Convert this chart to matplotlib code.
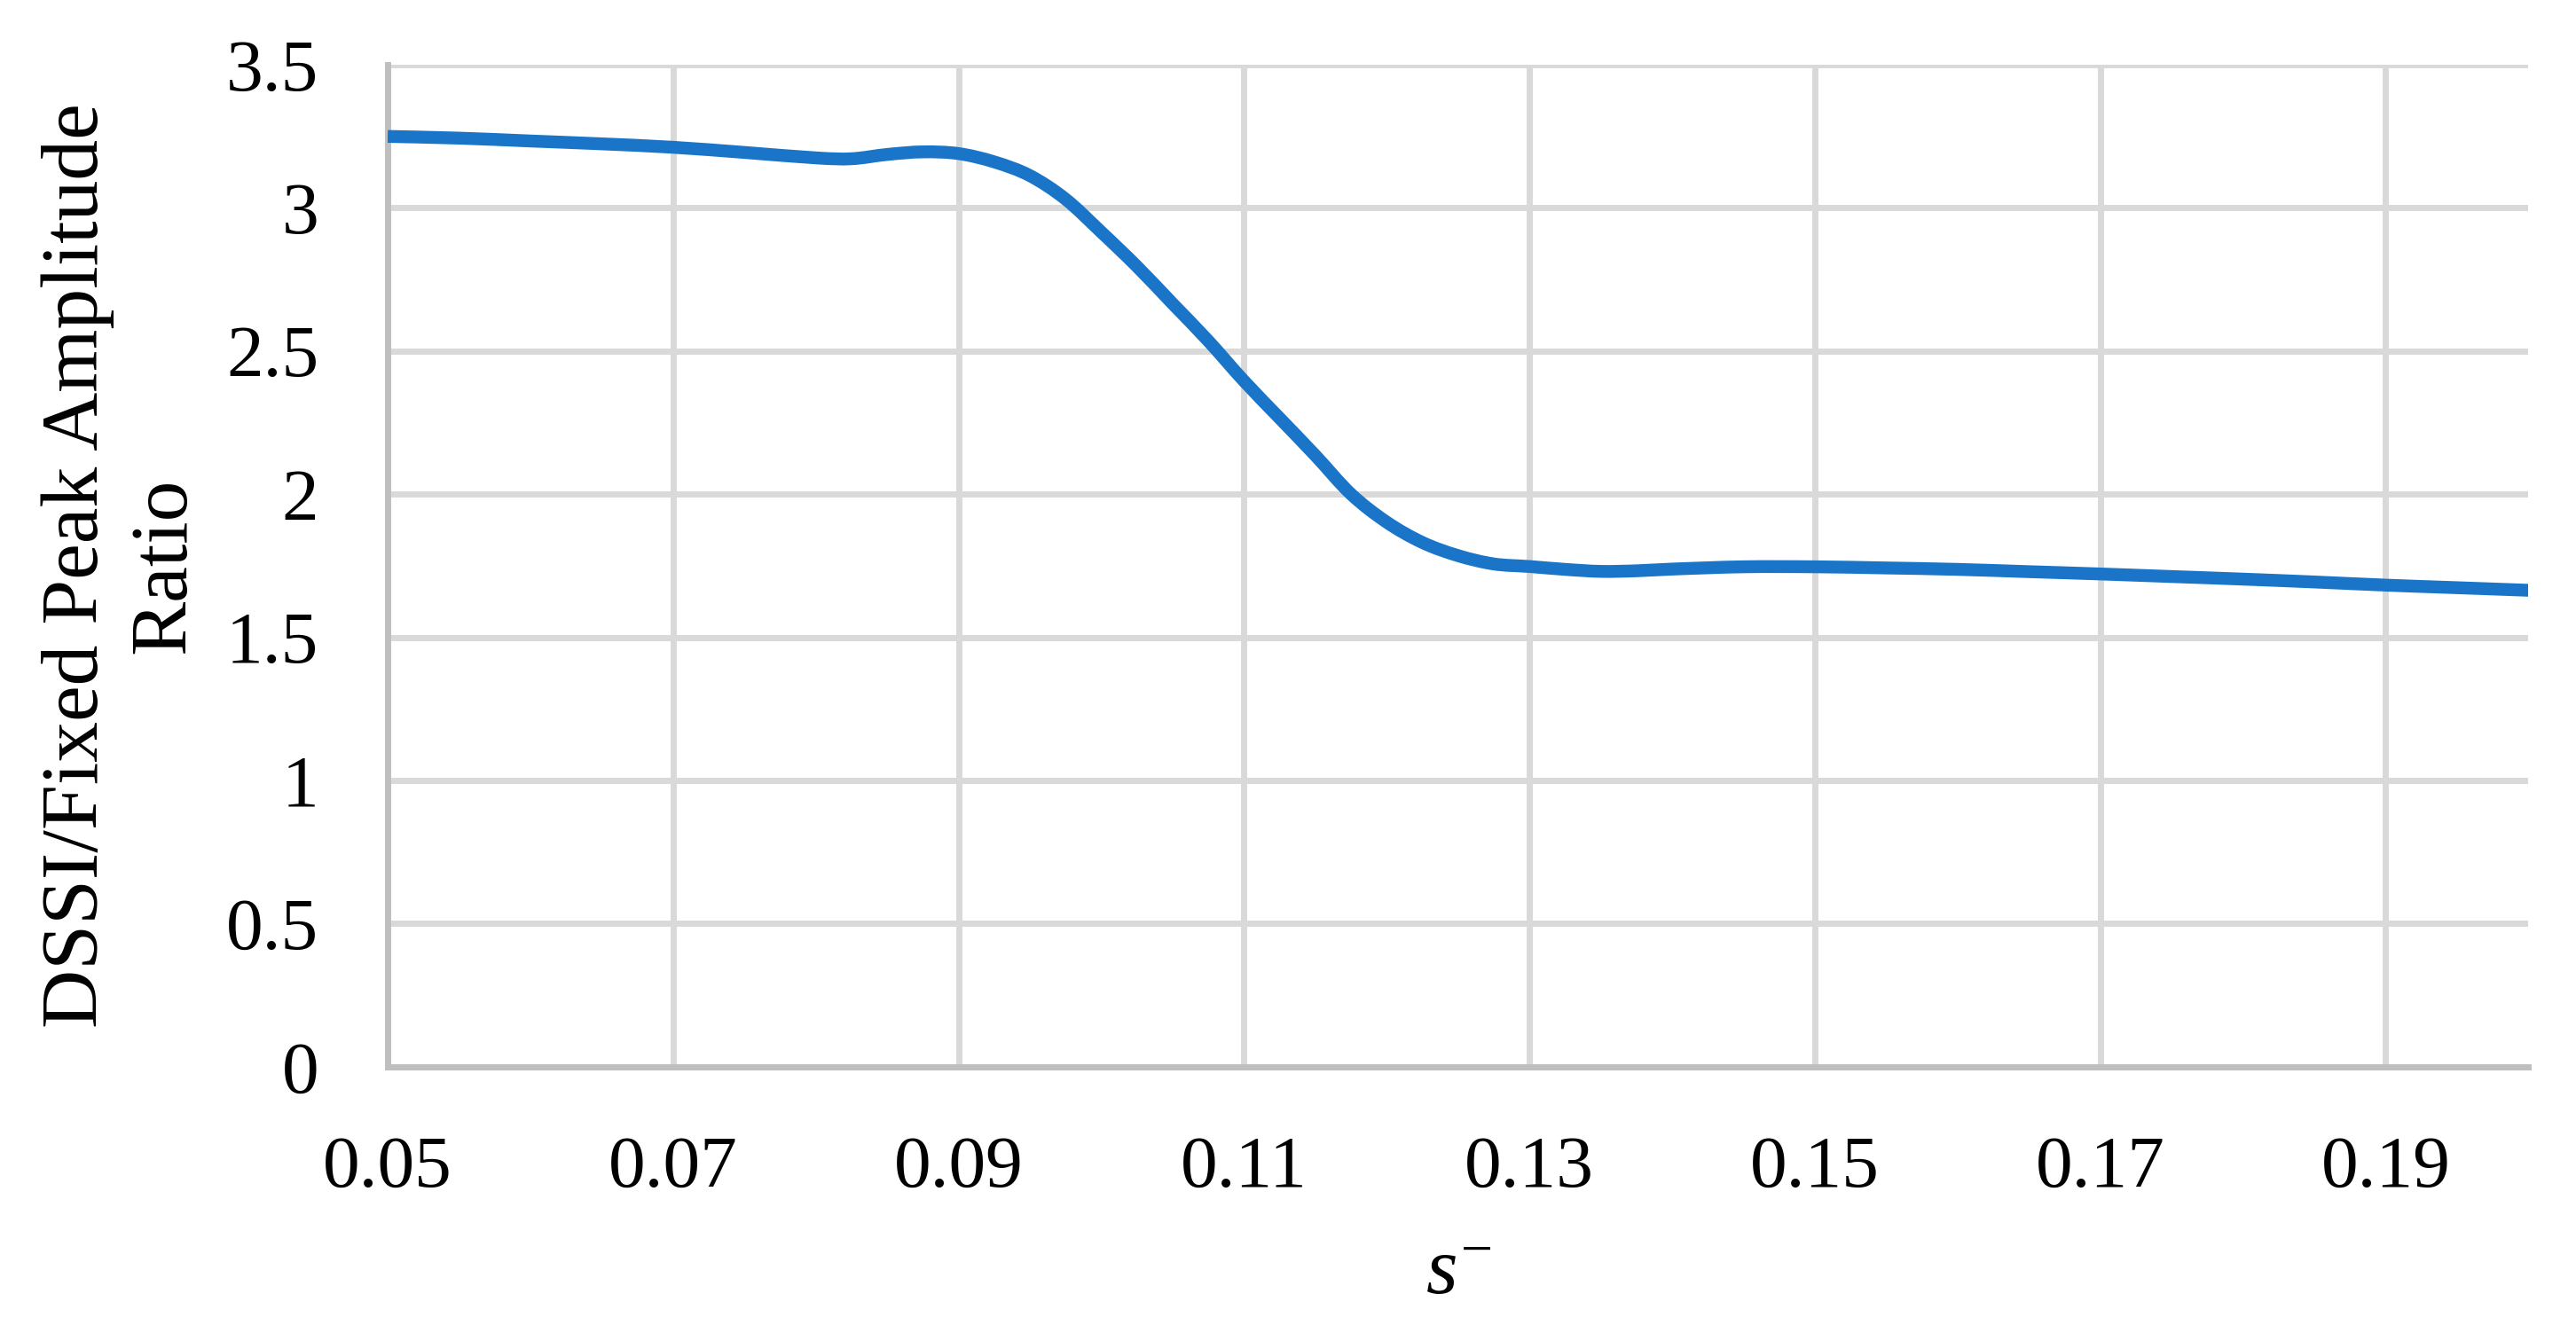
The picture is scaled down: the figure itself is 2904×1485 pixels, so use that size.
import matplotlib
matplotlib.use("Agg")
import matplotlib.pyplot as plt
import numpy as np
from matplotlib.path import Path
from matplotlib.patches import PathPatch

# values
s_minus = [0.05, 0.055, 0.06, 0.065, 0.07, 0.075, 0.08, 0.0825, 0.085, 0.0875,
           0.09, 0.0925, 0.095, 0.0975, 0.10, 0.1025, 0.105, 0.1075, 0.11, 0.1125,
           0.115, 0.1175, 0.12, 0.1225, 0.125, 0.1275, 0.13, 0.1325, 0.135, 0.1375,
           0.14, 0.145, 0.15, 0.155, 0.16, 0.165, 0.17, 0.175, 0.18, 0.185,
           0.19, 0.195, 0.20]
amp_ratio = [3.249, 3.243, 3.233, 3.223, 3.211, 3.193, 3.174, 3.171, 3.186, 3.195,
             3.189, 3.160, 3.112, 3.030, 2.915, 2.795, 2.665, 2.535, 2.395, 2.265,
             2.135, 2.000, 1.902, 1.831, 1.785, 1.756, 1.747, 1.737, 1.730, 1.732,
             1.738, 1.746, 1.746, 1.742, 1.737, 1.729, 1.721, 1.712, 1.703, 1.693,
             1.682, 1.673, 1.664]

x_ticks = [0.05, 0.07, 0.09, 0.11, 0.13, 0.15, 0.17, 0.19]
x_labels = ["0.05", "0.07", "0.09", "0.11", "0.13", "0.15", "0.17", "0.19"]
y_ticks = [0, 0.5, 1, 1.5, 2, 2.5, 3, 3.5]
y_labels = ["0", "0.5", "1", "1.5", "2", "2.5", "3", "3.5"]

plt.rcParams["font.family"] = ["Liberation Serif", "DejaVu Serif"]
plt.rcParams["mathtext.fontset"] = "custom"
plt.rcParams["mathtext.rm"] = "Liberation Serif"
plt.rcParams["mathtext.it"] = "Liberation Serif:italic"

fig = plt.figure(figsize=(14.52, 7.425), dpi=200)
ax = fig.add_axes([0.1505, 0.19, 0.831, 0.761])

# smoothed line like a spreadsheet "smooth line" (bezier through the read points)
pts = np.column_stack([s_minus, amp_ratio])
verts = [pts[0]]
codes = [Path.MOVETO]
for i in range(len(pts) - 1):
    p0 = pts[i - 1] if i > 0 else pts[i]
    p1, p2 = pts[i], pts[i + 1]
    p3 = pts[i + 2] if i + 2 < len(pts) else pts[i + 1]
    verts += [p1 + (p2 - p0) / 6, p2 - (p3 - p1) / 6, p2]
    codes += [Path.CURVE4] * 3
ax.add_patch(PathPatch(Path(verts, codes), fill=False, edgecolor="#1a75c8",
                       linewidth=5.2, capstyle="butt", zorder=3))

ax.set_xlim(0.05, 0.20)
ax.set_ylim(0, 3.5)
ax.set_xticks(x_ticks)
ax.set_xticklabels(x_labels)
ax.set_yticks(y_ticks)
ax.set_yticklabels(y_labels)

ax.grid(True, color="#d9d9d9", linewidth=2.5, zorder=0)
ax.set_axisbelow(True)
for side in ["top", "right"]:
    ax.spines[side].set_visible(False)
for side in ["left", "bottom"]:
    ax.spines[side].set_color("#bfbfbf")
    ax.spines[side].set_linewidth(2.5)
    ax.spines[side].set_zorder(2)

ax.tick_params(axis="both", length=0, labelsize=30)
ax.tick_params(axis="x", pad=28)
ax.tick_params(axis="y", pad=28)

ax.set_xlabel(r"$s^{-}$", fontsize=33, labelpad=14)
ax.set_ylabel("DSSI/Fixed Peak Amplitude\nRatio", fontsize=33,
              labelpad=10, linespacing=1.25)

fig.savefig("out.png", dpi=200, facecolor="white")
